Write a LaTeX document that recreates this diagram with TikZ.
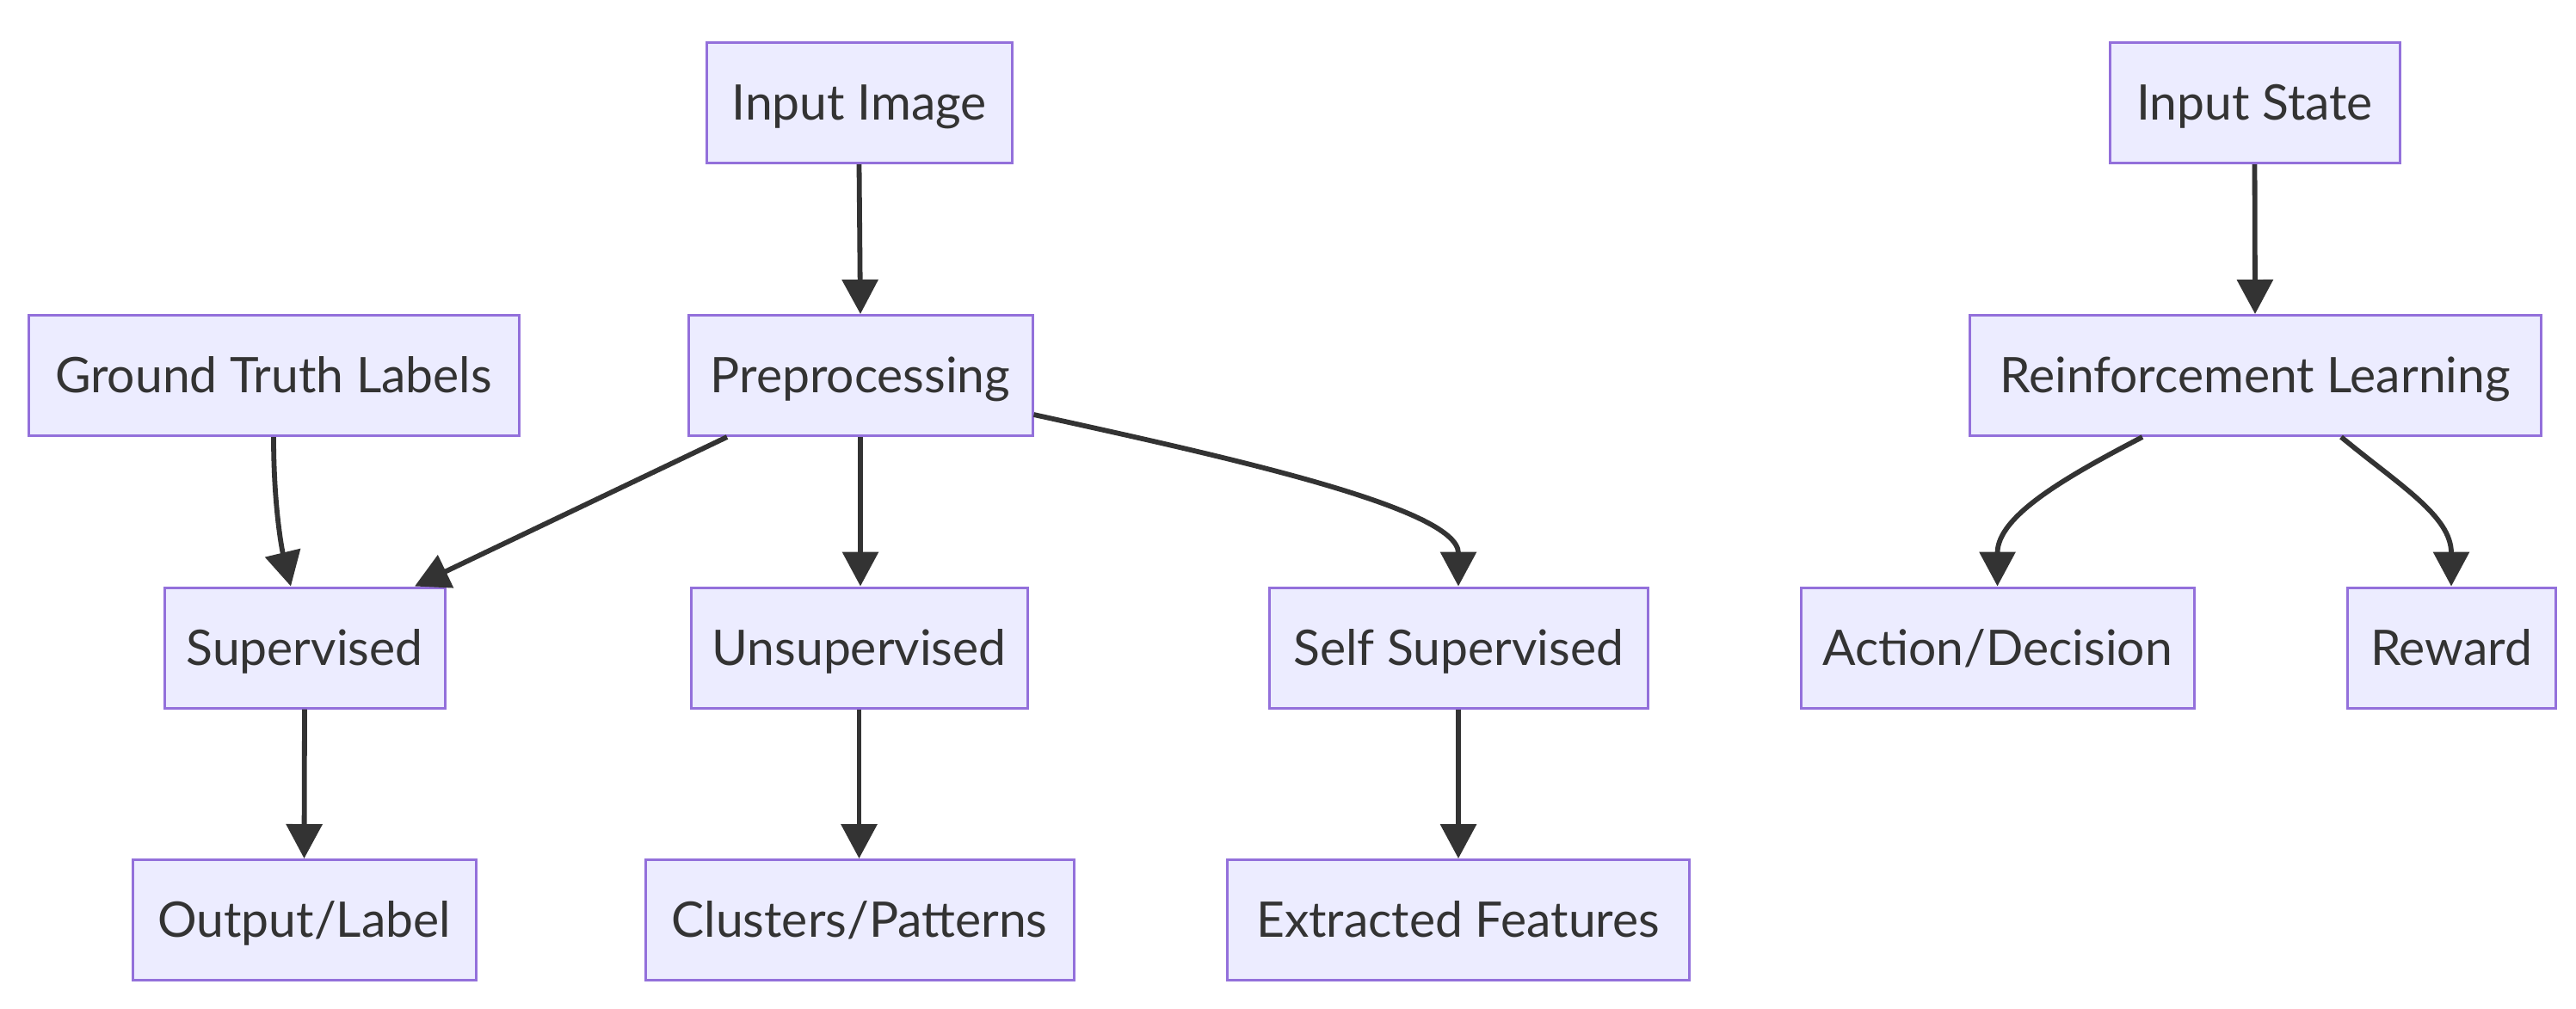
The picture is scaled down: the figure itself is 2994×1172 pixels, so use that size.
\documentclass[tikz,border=0pt]{standalone}
\usepackage{fontspec}
\setmainfont{Lato}
\usetikzlibrary{arrows.meta,calc}
\definecolor{nodefill}{HTML}{ECECFF}
\definecolor{nodeline}{HTML}{9370DB}
\definecolor{edgecol}{HTML}{333333}
\tikzset{
  box/.style={draw=nodeline, fill=nodefill, line width=0.75pt, rectangle,
    minimum height=35pt, inner sep=0pt, text=edgecol,
    font=\fontsize{14.25pt}{17pt}\selectfont, text height=10.2pt, text depth=0pt},
  arr/.style={draw=edgecol, line width=1.45pt, -{Triangle[length=10pt,width=10.3pt]}},
}
\begin{document}
\begin{tikzpicture}[x=0.25pt,y=-0.25pt]
\useasboundingbox (0,0) rectangle (2994,1172);
\node[box, minimum width=88.75pt] (img) at (998.5,119.5) {Input Image};
\node[box, minimum width=142.5pt] (gt) at (318,436.5) {Ground Truth Labels};
\node[box, minimum width=100pt] (pre) at (1000,436.5) {Preprocessing};
\node[box, minimum width=84.25pt] (state) at (2620.5,119.5) {Input State};
\node[box, minimum width=166pt] (rl) at (2621,436.5) {Reinforcement Learning};
\node[box, minimum width=81.5pt] (sup) at (354,753) {Supervised};
\node[box, minimum width=97.75pt] (uns) at (998.5,753) {Unsupervised};
\node[box, minimum width=110pt] (self) at (1695,753) {Self Supervised};
\node[box, minimum width=114.25pt] (act) at (2321.5,753) {Action/Decision};
\node[box, minimum width=60.5pt] (rew) at (2849,753) {Reward};
\node[box, minimum width=99.75pt] (out) at (353.5,1069.5) {Output/Label};
\node[box, minimum width=124.5pt] (clu) at (999,1069.5) {Clusters/Patterns};
\node[box, minimum width=134.25pt] (ext) at (1694.5,1069.5) {Extracted Features};

\draw[arr] (img.south) -- (pre.north);
\draw[arr] (state.south) -- (rl.north);
\draw[arr] (gt.south) .. controls (318,590) and (328,640) .. ($(sup.north)+(-16,0)$);
\draw[arr] ($(pre.south)+(-155,0)$) -- ($(sup.north)+(128,0)$);
\draw[arr] (pre.south) -- (pre.south |- uns.north);
\draw[arr] ($(pre.east)+(0,45.5)$) .. controls (1420,530) and (1695,590) .. (self.north);
\draw[arr] ($(rl.south)+(-131,0)$) .. controls (2400,555) and (2321.5,600) .. (act.north);
\draw[arr] ($(rl.south)+(100,0)$) .. controls (2790,565) and (2849,600) .. (rew.north);
\draw[arr] (sup.south) -- (out.north);
\draw[arr] (uns.south) -- (uns.south |- clu.north);
\draw[arr] (self.south) -- (self.south |- ext.north);
\end{tikzpicture}
\end{document}
